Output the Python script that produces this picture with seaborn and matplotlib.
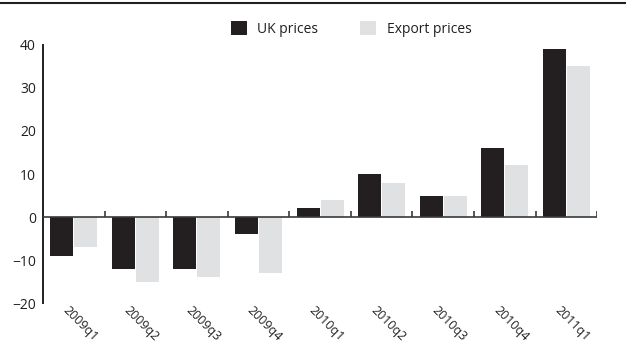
import matplotlib
matplotlib.use("Agg")
import matplotlib.pyplot as plt
from matplotlib.lines import Line2D
from matplotlib.patches import Patch
from matplotlib.transforms import offset_copy
import seaborn as sns
import pandas as pd

quarters = ["2009q1", "2009q2", "2009q3", "2009q4", "2010q1",
            "2010q2", "2010q3", "2010q4", "2011q1"]
uk_prices = [-9, -12, -12, -4, 2, 10, 5, 16, 39]
export_prices = [-7, -15, -14, -13, 4, 8, 5, 12, 35]
series_names = ["UK prices", "Export prices"]
series_colors = ["#231f20", "#e0e1e2"]
y_ticks = [-20, -10, 0, 10, 20, 30, 40]

df = pd.DataFrame({
    "quarter": quarters * 2,
    "value": uk_prices + export_prices,
    "series": [series_names[0]] * len(quarters) + [series_names[1]] * len(quarters),
})

sns.set_style("white")
plt.rcParams["font.family"] = ["Open Sans", "DejaVu Sans"]

fig = plt.figure(figsize=(6.26, 3.45), dpi=100)
ax = fig.add_axes([0.0687, 0.1217, 0.8853, 0.7479])

sns.barplot(data=df, x="quarter", y="value", hue="series", order=quarters,
            hue_order=series_names, palette=series_colors, width=0.78,
            gap=0.04, saturation=1, linewidth=0, edgecolor="none",
            legend=False, ax=ax)

ax.set_xlim(-0.5, len(quarters) - 0.5)
ax.set_ylim(-20, 40)
ax.set_yticks(y_ticks)
ax.set_xlabel("")
ax.set_ylabel("")

for side in ["top", "right", "bottom"]:
    ax.spines[side].set_visible(False)
ax.spines["left"].set_linewidth(1.4)
ax.spines["left"].set_color("#231f20")

ax.tick_params(axis="y", direction="in", length=9.5, width=1.4,
               color="#231f20", labelsize=10, labelcolor="#231f20", pad=5)
ax.tick_params(axis="x", length=0, labelsize=9, labelcolor="#231f20", pad=3)

# zero baseline with small upward ticks at category boundaries
ax.axhline(0, color="#3a3a3a", lw=1.2, zorder=3)
boundaries = [i + 0.5 for i in range(len(quarters))]
ax.vlines(boundaries, 0, 1.4, color="#3a3a3a", lw=1.2, zorder=3)

fig.canvas.draw()
for lbl in ax.get_xticklabels():
    lbl.set_rotation(-45)
    lbl.set_ha("left")
    lbl.set_va("center")
    lbl.set_rotation_mode("anchor")
    lbl.set_transform(offset_copy(lbl.get_transform(), fig=fig, x=-9, y=-1,
                                  units="dots"))

# thin rule across the top of the figure
fig.add_artist(Line2D([0, 1], [0.99, 0.99], transform=fig.transFigure,
                      color="#231f20", lw=1.5))

handles = [Patch(facecolor=c, edgecolor="none") for c in series_colors]
fig.legend(handles, series_names, loc="center", bbox_to_anchor=(0.561, 0.916),
           ncol=2, frameon=False, fontsize=10, handlelength=1.15,
           handleheight=1.15, handletextpad=0.75, columnspacing=3.0,
           labelcolor="#231f20")

fig.savefig("out.png", dpi=100)
